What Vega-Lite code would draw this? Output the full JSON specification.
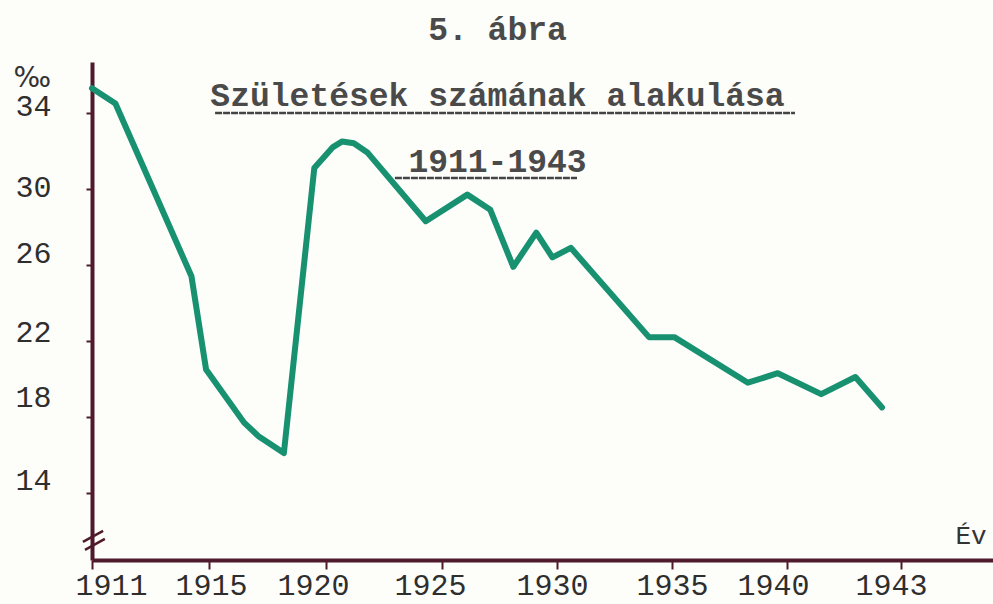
{
  "$schema": "https://vega.github.io/schema/vega-lite/v6.json",
  "autosize": "none",
  "width": 901,
  "height": 498,
  "padding": {"left": 92, "top": 62, "right": 0, "bottom": 44},
  "background": "#fdfdfa",
  "view": {"stroke": null},
  "title": {
    "text": ["5. ábra", "Születések számának alakulása", "1911-1943"],
    "font": "Liberation Mono",
    "fontSize": 33,
    "fontWeight": "bold",
    "color": "#4a4a4a",
    "lineHeight": 66,
    "anchor": "middle",
    "frame": "group",
    "baseline": "top",
    "offset": 0,
    "dx": -45,
    "dy": 117
  },
  "data": {
    "values": [
      {"year": 1911.0, "rate": 35.3},
      {"year": 1911.8, "rate": 34.5},
      {"year": 1914.4, "rate": 25.4},
      {"year": 1914.9, "rate": 20.5},
      {"year": 1916.5, "rate": 17.7},
      {"year": 1917.1, "rate": 17.0},
      {"year": 1918.2, "rate": 16.1},
      {"year": 1919.5, "rate": 31.1},
      {"year": 1920.3, "rate": 32.2},
      {"year": 1920.7, "rate": 32.5},
      {"year": 1921.2, "rate": 32.4},
      {"year": 1921.8, "rate": 31.9},
      {"year": 1924.3, "rate": 28.3},
      {"year": 1926.1, "rate": 29.7},
      {"year": 1927.1, "rate": 28.9},
      {"year": 1928.1, "rate": 25.9},
      {"year": 1929.1, "rate": 27.7},
      {"year": 1929.8, "rate": 26.4},
      {"year": 1930.6, "rate": 26.9},
      {"year": 1934.0, "rate": 22.2},
      {"year": 1935.1, "rate": 22.2},
      {"year": 1938.3, "rate": 19.8},
      {"year": 1939.6, "rate": 20.3},
      {"year": 1940.9, "rate": 19.2},
      {"year": 1941.8, "rate": 20.1},
      {"year": 1942.5, "rate": 18.5}
    ]
  },
  "encoding": {
    "x": {
      "field": "year",
      "type": "quantitative",
      "scale": {
        "domain": [1911, 1915, 1920, 1925, 1930, 1935, 1940, 1943, 1945.42],
        "range": [0, 117, 234, 350, 465, 580, 695, 809, 901],
        "nice": false,
        "zero": false
      },
      "axis": {
        "values": [1911, 1915, 1920, 1925, 1930, 1935, 1940, 1943],
        "format": "d",
        "grid": false,
        "domainColor": "#4e1a2c",
        "domainWidth": 4,
        "tickColor": "#4e1a2c",
        "tickWidth": 2,
        "tickSize": 9,
        "labelFlush": false,
        "labelFont": "Liberation Mono",
        "labelFontSize": 30,
        "labelColor": "#2e2e2e",
        "labelBaseline": "bottom",
        "labelPadding": 31,
        "labelOffset": {
          "condition": [
            {"test": "datum.value == 1911", "value": 19},
            {"test": "datum.value == 1915", "value": 2},
            {"test": "datum.value == 1920", "value": -13},
            {"test": "datum.value == 1925", "value": -12},
            {"test": "datum.value == 1930", "value": -5},
            {"test": "datum.value == 1940", "value": -14},
            {"test": "datum.value == 1943", "value": -10}
          ],
          "value": 0
        },
        "title": "Év",
        "titleFont": "Liberation Mono",
        "titleFontSize": 26,
        "titleFontWeight": "normal",
        "titleColor": "#333333",
        "titleAlign": "left",
        "titleBaseline": "alphabetic",
        "titleAngle": 0,
        "titleX": 863,
        "titleY": -17
      }
    },
    "y": {
      "field": "rate",
      "type": "quantitative",
      "scale": {"domain": [10.47, 36.68], "nice": false, "zero": false},
      "axis": {
        "values": [14, 18, 22, 26, 30, 34],
        "grid": false,
        "domainColor": "#4e1a2c",
        "domainWidth": 4,
        "tickColor": "#4e1a2c",
        "tickWidth": 2,
        "tickSize": 6,
        "labelFont": "Liberation Mono",
        "labelFontSize": 30,
        "labelColor": "#2e2e2e",
        "labelAlign": "right",
        "labelBaseline": "middle",
        "labelPadding": 35,
        "labelOffset": {
          "condition": [
            {"test": "datum.value == 34", "value": -6},
            {"test": "datum.value == 30", "value": -1},
            {"test": "datum.value == 26", "value": -11},
            {"test": "datum.value == 22", "value": -8},
            {"test": "datum.value == 18", "value": -19},
            {"test": "datum.value == 14", "value": -12}
          ],
          "value": 0
        },
        "title": "‰",
        "titleFont": "DejaVu Sans",
        "titleFontSize": 28,
        "titleFontWeight": "normal",
        "titleColor": "#333333",
        "titleAngle": 0,
        "titleAlign": "left",
        "titleBaseline": "middle",
        "titleX": -79,
        "titleY": 16
      }
    }
  },
  "layer": [
    {
      "mark": {"type": "line", "color": "#17916f", "strokeWidth": 6, "strokeJoin": "round", "strokeCap": "round"}
    },
    {
      "transform": [{"filter": "datum.year == 1911"}],
      "mark": {"type": "rule", "color": "#444444", "strokeWidth": 2.5, "strokeDash": [7, 1]},
      "encoding": {
        "x": {"datum": 1915.26, "type": "quantitative"},
        "x2": {"datum": 1940.21},
        "y": {"datum": 34.0, "type": "quantitative"}
      }
    },
    {
      "transform": [{"filter": "datum.year == 1911"}],
      "mark": {"type": "rule", "color": "#444444", "strokeWidth": 2.5, "strokeDash": [7, 1]},
      "encoding": {
        "x": {"datum": 1922.97, "type": "quantitative"},
        "x2": {"datum": 1930.87},
        "y": {"datum": 30.58, "type": "quantitative"}
      }
    },
    {
      "transform": [{"filter": "datum.year == 1911"}],
      "mark": {"type": "rule", "color": "#4e1a2c", "strokeWidth": 2.5, "clip": false},
      "encoding": {
        "x": {"datum": 1910.69, "type": "quantitative"},
        "x2": {"datum": 1911.38},
        "y": {"datum": 11.42, "type": "quantitative"},
        "y2": {"datum": 12.0}
      }
    },
    {
      "transform": [{"filter": "datum.year == 1911"}],
      "mark": {"type": "rule", "color": "#4e1a2c", "strokeWidth": 2.5, "clip": false},
      "encoding": {
        "x": {"datum": 1910.76, "type": "quantitative"},
        "x2": {"datum": 1911.44},
        "y": {"datum": 11.0, "type": "quantitative"},
        "y2": {"datum": 11.58}
      }
    }
  ]
}
